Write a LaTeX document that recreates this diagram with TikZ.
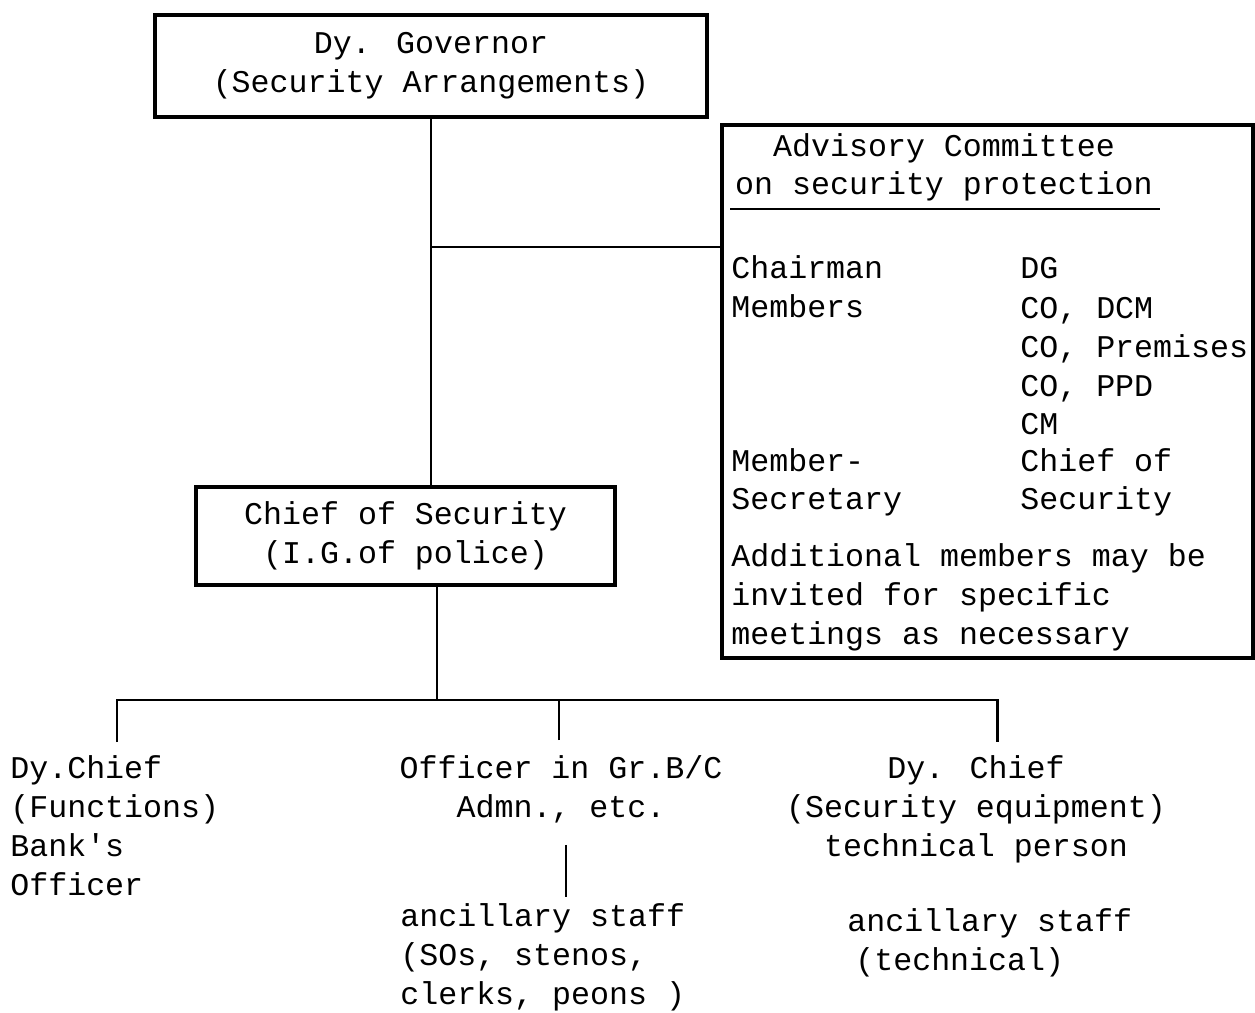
\documentclass[tikz,border=0pt]{standalone}
\usepackage{fontspec}
\setmainfont{Liberation Mono}
\usetikzlibrary{positioning}

\begin{document}
\begin{tikzpicture}[x=0.02cm,y=-0.02cm,
    every node/.style={font=\fontsize{18}{22.1}\selectfont, inner sep=0pt},
    orgbox/.style={draw, line width=2.2pt, align=center},
    wire/.style={line width=1.7pt}]
  \useasboundingbox (0,0) rectangle (1255,1013);

  %%%%% BOXES %%%%%
  \node[orgbox, minimum width=11.04cm, minimum height=2.04cm] (gov) at (431,66)
    {Dy. Governor\\(Security Arrangements)};
  \node[orgbox, minimum width=8.38cm, minimum height=1.96cm] (chief) at (405.5,536)
    {Chief of Security\\(I.G.of police)};
  \node[draw, line width=2.2pt, minimum width=10.62cm, minimum height=10.66cm] (adv) at (987.5,391.5) {};

  %%%%% ADVISORY COMMITTEE %%%%%
  % multi-line nodes: base = baseline of the last line
  \node[align=center, anchor=base] (advtitle) at (944,195)
    {Advisory Committee\\on security protection};
  \draw[line width=1.2pt] (730,209) -- (1160,209);
  \node[anchor=base west] (chair) at (731,279) {Chairman};
  \node[anchor=base west] (dg) at (1020,279) {DG};
  \node[anchor=base west] (members) at (731,318) {Members};
  \node[anchor=base west, align=left] (colist) at (1020,435) {CO, DCM\\CO, Premises\\CO, PPD\\CM};
  \node[anchor=base west, align=left] (memsec) at (731,510) {Member-\\Secretary};
  \node[anchor=base west, align=left] (cossec) at (1020,510) {Chief of\\Security};
  \node[anchor=base west, align=left] (addl) at (731,644)
    {Additional members may be\\invited for specific\\meetings as necessary};

  %%%%% LOWER LEVEL %%%%%
  \node[anchor=base west, align=left] (dyfun) at (10,895)
    {Dy.Chief\\(Functions)\\Bank\textquotesingle s\\Officer};
  \node[anchor=base, align=center] (officer) at (561,817)
    {Officer in Gr.B/C\\Admn., etc.};
  \node[anchor=base, align=center] (dyequip) at (976,856)
    {Dy. Chief\\(Security equipment)\\technical person};
  \node[anchor=base west, align=left] (ancoff) at (400,1004)
    {ancillary staff\\(SOs, stenos,\\clerks, peons )};
  \node[anchor=base west, align=left] (anctech) at (847,970)
    {ancillary staff\\\hspace*{0.16cm}(technical)};

  %%%%% CONNECTORS %%%%%
  \coordinate (advjoin) at (431,247);
  \coordinate (bus) at (437,700);
  \coordinate (funtop) at (117,742);
  \coordinate (offtop) at (559,740);
  \coordinate (eqtop) at (997,742);

  \draw[wire] (gov.south) -- (gov.south |- chief.north);
  \draw[wire] (advjoin) -- (advjoin -| adv.west);
  \draw[wire] (chief.south -| bus) -- (bus);
  \draw[wire] (funtop) |- (bus) -| (eqtop);
  \draw[wire] (offtop) -- (offtop |- bus);
  \draw[wire, shorten >=0.12cm] ([xshift=0.1cm, yshift=-0.44cm]officer.south) coordinate (offfoot)
    -- (offfoot |- ancoff.north);
\end{tikzpicture}
\end{document}
